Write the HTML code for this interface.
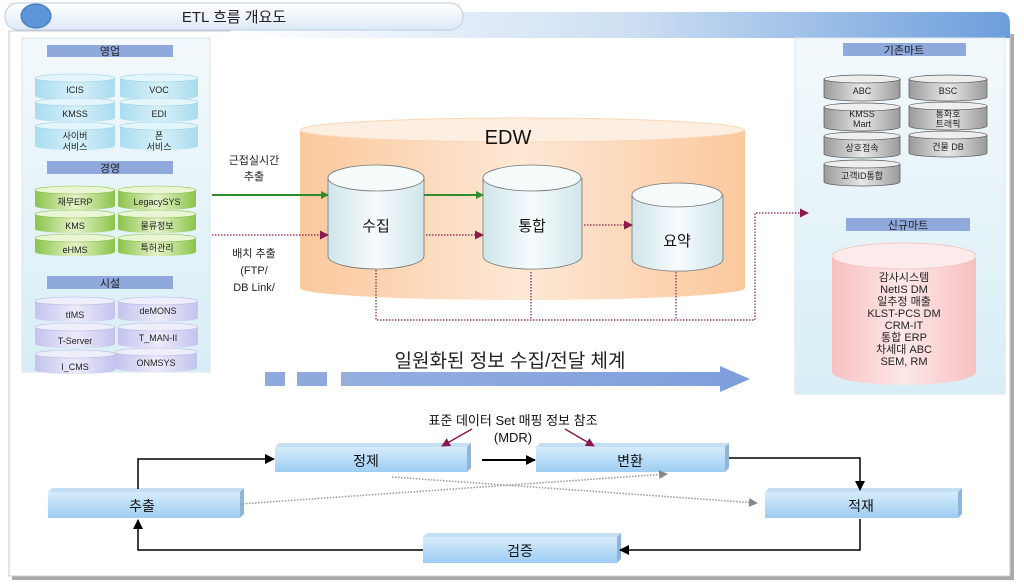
<!DOCTYPE html>
<html><head><meta charset="utf-8"><style>
body{margin:0;background:#fff;}
svg{display:block;font-family:"Liberation Sans","Noto Sans CJK KR",sans-serif;}
</style></head><body>
<svg width="1024" height="585" viewBox="0 0 1024 585" xmlns="http://www.w3.org/2000/svg">
<defs>
<linearGradient id="bar" x1="0" x2="1"><stop offset="0" stop-color="#fff"/><stop offset="0.5" stop-color="#cfe0f3"/><stop offset="1" stop-color="#6c9edc"/></linearGradient>
<linearGradient id="pill" x1="0" y1="0" x2="0" y2="1"><stop offset="0" stop-color="#fff"/><stop offset="1" stop-color="#dde9f6"/></linearGradient>
<linearGradient id="panel" x1="0" y1="0" x2="0" y2="1"><stop offset="0" stop-color="#f3f9fc"/><stop offset="1" stop-color="#d8eef6"/></linearGradient>
<linearGradient id="blue" x1="0" x2="1"><stop offset="0" stop-color="#a9dcef"/><stop offset="0.5" stop-color="#d7f0f9"/><stop offset="1" stop-color="#a9dcef"/></linearGradient>
<linearGradient id="green" x1="0" x2="1"><stop offset="0" stop-color="#8bc34a"/><stop offset="0.5" stop-color="#e5f3c9"/><stop offset="1" stop-color="#8bc34a"/></linearGradient>
<linearGradient id="purp" x1="0" x2="1"><stop offset="0" stop-color="#c3c3ee"/><stop offset="0.5" stop-color="#ebebfa"/><stop offset="1" stop-color="#c3c3ee"/></linearGradient>
<linearGradient id="gray" x1="0" x2="1"><stop offset="0" stop-color="#9a9a9a"/><stop offset="0.5" stop-color="#e8e8e8"/><stop offset="1" stop-color="#9a9a9a"/></linearGradient>
<linearGradient id="pink" x1="0" x2="1"><stop offset="0" stop-color="#f8c0c0"/><stop offset="0.5" stop-color="#fde8e8"/><stop offset="1" stop-color="#f8c0c0"/></linearGradient>
<linearGradient id="orange" x1="0" x2="1"><stop offset="0" stop-color="#fbc89c"/><stop offset="0.5" stop-color="#fde8d6"/><stop offset="1" stop-color="#fbc89c"/></linearGradient>
<linearGradient id="inner" x1="0" x2="1"><stop offset="0" stop-color="#cfe6ea"/><stop offset="0.5" stop-color="#f7fbfc"/><stop offset="1" stop-color="#cfe6ea"/></linearGradient>
<linearGradient id="box" x1="0" y1="0" x2="0" y2="1"><stop offset="0" stop-color="#d6ecfb"/><stop offset="1" stop-color="#9dcdf2"/></linearGradient>
<linearGradient id="arrowg" x1="0" x2="1"><stop offset="0" stop-color="#94aee0"/><stop offset="1" stop-color="#7d9edb"/></linearGradient>
<marker id="ag" markerWidth="8" markerHeight="8" refX="7" refY="4" orient="auto" markerUnits="userSpaceOnUse"><path d="M0,0 L8,4 L0,8z" fill="#2e8b2e"/></marker>
<marker id="ar" markerWidth="9" markerHeight="9" refX="8" refY="4.5" orient="auto" markerUnits="userSpaceOnUse"><path d="M0,0 L9,4.5 L0,9z" fill="#8b1a4a"/></marker>
<marker id="ak" markerWidth="10" markerHeight="10" refX="9" refY="5" orient="auto" markerUnits="userSpaceOnUse"><path d="M0,0 L10,5 L0,10z" fill="#000"/></marker>
<marker id="agr" markerWidth="9" markerHeight="9" refX="8" refY="4.5" orient="auto" markerUnits="userSpaceOnUse"><path d="M0,0 L9,4.5 L0,9z" fill="#888"/></marker>
</defs>

<!-- frame -->
<rect x="12" y="34" width="1002" height="546" fill="#aaa"/>
<rect x="9" y="31" width="1001" height="545" fill="#fff" stroke="#c8c8c8"/>
<!-- header bar -->
<path d="M230,12 H1000 Q1010,12 1010,24 V38 H240 Q230,38 230,26z" fill="url(#bar)"/>
<rect x="5" y="3" width="458" height="27" rx="13" fill="url(#pill)" stroke="#b8cde4"/>
<ellipse cx="36" cy="16" rx="15" ry="12" fill="#5d95d8" stroke="#3a72b8"/>
<text x="234" y="22" font-size="15" text-anchor="middle" fill="#222">ETL 흐름 개요도</text>

<!-- left panel -->
<rect x="22" y="38" width="188" height="334" fill="url(#panel)" stroke="#d8e6ee"/>
<g font-size="9" text-anchor="middle" fill="#222">
<rect x="47" y="45" width="126" height="12" fill="#8fa9dc"/><text x="110" y="55" font-size="11">영업</text>
<rect x="47" y="161" width="126" height="13" fill="#8fa9dc"/><text x="110" y="172" font-size="11">경영</text>
<rect x="47" y="276" width="126" height="13" fill="#8fa9dc"/><text x="110" y="287" font-size="11">시설</text>
</g>
<g id="cyl" font-size="9" text-anchor="middle" fill="#222" stroke-width="0.6">
<!-- blue -->
<path d="M35,78 v18 a40,4 0 0 0 80,0 v-18z" fill="url(#blue)"/><ellipse cx="75" cy="78" rx="40" ry="4" fill="#e4f5fb" stroke="#9ccfe2" stroke-width="0.6"/><text x="75" y="93">ICIS</text>
<path d="M120,78 v18 a39,4 0 0 0 78,0 v-18z" fill="url(#blue)"/><ellipse cx="159" cy="78" rx="39" ry="4" fill="#e4f5fb" stroke="#9ccfe2" stroke-width="0.6"/><text x="159" y="93">VOC</text>
<path d="M35,102 v16 a40,4 0 0 0 80,0 v-16z" fill="url(#blue)"/><ellipse cx="75" cy="102" rx="40" ry="4" fill="#e4f5fb" stroke="#9ccfe2" stroke-width="0.6"/><text x="75" y="117">KMSS</text>
<path d="M120,102 v16 a39,4 0 0 0 78,0 v-16z" fill="url(#blue)"/><ellipse cx="159" cy="102" rx="39" ry="4" fill="#e4f5fb" stroke="#9ccfe2" stroke-width="0.6"/><text x="159" y="117">EDI</text>
<path d="M35,126 v20 a40,4 0 0 0 80,0 v-20z" fill="url(#blue)"/><ellipse cx="75" cy="126" rx="40" ry="4" fill="#e4f5fb" stroke="#9ccfe2" stroke-width="0.6"/><text x="75" y="139">사이버</text><text x="75" y="150">서비스</text>
<path d="M120,126 v20 a39,4 0 0 0 78,0 v-20z" fill="url(#blue)"/><ellipse cx="159" cy="126" rx="39" ry="4" fill="#e4f5fb" stroke="#9ccfe2" stroke-width="0.6"/><text x="159" y="139">폰</text><text x="159" y="150">서비스</text>
<!-- green -->
<path d="M35,190 v16 a40,4 0 0 0 80,0 v-16z" fill="url(#green)"/><ellipse cx="75" cy="190" rx="40" ry="4" fill="#eaf5d6" stroke="#8bc34a" stroke-width="0.6"/><text x="75" y="205">재무ERP</text>
<path d="M118,190 v16 a39,4 0 0 0 78,0 v-16z" fill="url(#green)"/><ellipse cx="157" cy="190" rx="39" ry="4" fill="#eaf5d6" stroke="#8bc34a" stroke-width="0.6"/><text x="157" y="205">LegacySYS</text>
<path d="M35,214 v15 a40,4 0 0 0 80,0 v-15z" fill="url(#green)"/><ellipse cx="75" cy="214" rx="40" ry="4" fill="#eaf5d6" stroke="#8bc34a" stroke-width="0.6"/><text x="75" y="229">KMS</text>
<path d="M118,214 v15 a39,4 0 0 0 78,0 v-15z" fill="url(#green)"/><ellipse cx="157" cy="214" rx="39" ry="4" fill="#eaf5d6" stroke="#8bc34a" stroke-width="0.6"/><text x="157" y="229">물류정보</text>
<path d="M35,238 v14 a40,4 0 0 0 80,0 v-14z" fill="url(#green)"/><ellipse cx="75" cy="238" rx="40" ry="4" fill="#eaf5d6" stroke="#8bc34a" stroke-width="0.6"/><text x="75" y="253">eHMS</text>
<path d="M118,238 v14 a39,4 0 0 0 78,0 v-14z" fill="url(#green)"/><ellipse cx="157" cy="238" rx="39" ry="4" fill="#eaf5d6" stroke="#8bc34a" stroke-width="0.6"/><text x="157" y="251">특허관리</text>
<!-- purple -->
<path d="M35,301 v17 a40,4 0 0 0 80,0 v-17z" fill="url(#purp)"/><ellipse cx="75" cy="301" rx="40" ry="4" fill="#efeffb" stroke="#b8b8e6" stroke-width="0.6"/><text x="75" y="318">tIMS</text>
<path d="M118,301 v17 a40,4 0 0 0 80,0 v-17z" fill="url(#purp)"/><ellipse cx="158" cy="301" rx="40" ry="4" fill="#efeffb" stroke="#b8b8e6" stroke-width="0.6"/><text x="158" y="314">deMONS</text>
<path d="M35,327 v17 a40,4 0 0 0 80,0 v-17z" fill="url(#purp)"/><ellipse cx="75" cy="327" rx="40" ry="4" fill="#efeffb" stroke="#b8b8e6" stroke-width="0.6"/><text x="75" y="344">T-Server</text>
<path d="M118,327 v17 a40,4 0 0 0 80,0 v-17z" fill="url(#purp)"/><ellipse cx="158" cy="327" rx="40" ry="4" fill="#efeffb" stroke="#b8b8e6" stroke-width="0.6"/><text x="158" y="341">T_MAN-II</text>
<path d="M35,354 v16 a40,4 0 0 0 80,0 v-16z" fill="url(#purp)"/><ellipse cx="75" cy="354" rx="40" ry="4" fill="#efeffb" stroke="#b8b8e6" stroke-width="0.6"/><text x="75" y="370">I_CMS</text>
<path d="M115,352 v16 a41,4 0 0 0 82,0 v-16z" fill="url(#purp)"/><ellipse cx="156" cy="352" rx="41" ry="4" fill="#efeffb" stroke="#b8b8e6" stroke-width="0.6"/><text x="156" y="366">ONMSYS</text>
</g>

<!-- right panel -->
<rect x="795" y="38" width="210" height="356" fill="url(#panel)" stroke="#d8e6ee"/>
<g font-size="9" text-anchor="middle" fill="#222">
<rect x="843" y="43" width="123" height="13" fill="#8fa9dc"/><text x="904" y="54" font-size="11">기존마트</text>
<rect x="846" y="218" width="124" height="13" fill="#8fa9dc"/><text x="908" y="229" font-size="11">신규마트</text>
<g stroke="#555" stroke-width="0.7">
<path d="M824,79 v18 a38,4 0 0 0 76,0 v-18z" fill="url(#gray)"/><ellipse cx="862" cy="79" rx="38" ry="4" fill="#eee"/>
<path d="M909,79 v18 a39,4 0 0 0 78,0 v-18z" fill="url(#gray)"/><ellipse cx="948" cy="79" rx="39" ry="4" fill="#eee"/>
<path d="M824,107 v20 a38,4 0 0 0 76,0 v-20z" fill="url(#gray)"/><ellipse cx="862" cy="107" rx="38" ry="4" fill="#eee"/>
<path d="M909,106 v20 a39,4 0 0 0 78,0 v-20z" fill="url(#gray)"/><ellipse cx="948" cy="106" rx="39" ry="4" fill="#eee"/>
<path d="M824,136 v18 a38,4 0 0 0 76,0 v-18z" fill="url(#gray)"/><ellipse cx="862" cy="136" rx="38" ry="4" fill="#eee"/>
<path d="M909,135 v18 a39,4 0 0 0 78,0 v-18z" fill="url(#gray)"/><ellipse cx="948" cy="135" rx="39" ry="4" fill="#eee"/>
<path d="M824,164 v18 a38,4 0 0 0 76,0 v-18z" fill="url(#gray)"/><ellipse cx="862" cy="164" rx="38" ry="4" fill="#eee"/>
</g>
<text x="862" y="94">ABC</text><text x="948" y="94">BSC</text>
<text x="862" y="117">KMSS</text><text x="862" y="127">Mart</text>
<text x="948" y="117">통화호</text><text x="948" y="127">트래픽</text>
<text x="862" y="151">상호접속</text><text x="948" y="150">건물 DB</text>
<text x="862" y="179">고객ID통합</text>
<path d="M832,256 v116 a72,13 0 0 0 144,0 v-116z" fill="url(#pink)"/>
<ellipse cx="904" cy="256" rx="72" ry="13" fill="#fdeaea" stroke="#f4c6c6"/>
<g font-size="11" fill="#222">
<text x="904" y="281">감사시스템</text><text x="904" y="293">NetIS DM</text><text x="904" y="305">일추정 매출</text><text x="904" y="317">KLST-PCS DM</text><text x="904" y="329">CRM-IT</text><text x="904" y="341">통합 ERP</text><text x="904" y="353">차세대 ABC</text><text x="904" y="365">SEM, RM</text>
</g>
</g>

<!-- EDW -->
<path d="M300,130 V288 a222,12 0 0 0 445,0 V130z" fill="url(#orange)"/>
<ellipse cx="522" cy="130" rx="222" ry="12" fill="#fdeee2" stroke="#fbd6b6"/>
<text x="508" y="144" font-size="20" text-anchor="middle" fill="#111">EDW</text>
<g stroke="#777" stroke-width="0.8">
<path d="M328,178 v78 a48,13 0 0 0 96,0 v-78z" fill="url(#inner)"/><ellipse cx="376" cy="178" rx="48" ry="13" fill="#f5fafb"/>
<path d="M483,178 v78 a49,13 0 0 0 99,0 v-78z" fill="url(#inner)"/><ellipse cx="532" cy="178" rx="49" ry="13" fill="#f5fafb"/>
<path d="M632,195 v64 a45,12 0 0 0 91,0 v-64z" fill="url(#inner)"/><ellipse cx="677" cy="195" rx="45" ry="12" fill="#f5fafb"/>
</g>
<g font-size="15" text-anchor="middle" fill="#111">
<text x="376" y="231">수집</text><text x="532" y="231">통합</text><text x="677" y="246">요약</text>
</g>
<g font-size="11" text-anchor="middle" fill="#222">
<text x="254" y="164">근접실시간</text><text x="254" y="180">추출</text>
<text x="254" y="257">배치 추출</text><text x="254" y="274">(FTP/</text><text x="254" y="291">DB Link/</text>
</g>
<line x1="212" y1="195" x2="328" y2="195" stroke="#2e8b2e" stroke-width="2" marker-end="url(#ag)"/>
<line x1="424" y1="195" x2="483" y2="195" stroke="#2e8b2e" stroke-width="2" marker-end="url(#ag)"/>
<g stroke="#8b1a4a" stroke-width="1.2" stroke-dasharray="1.5,1.5" fill="none">
<line x1="212" y1="235" x2="328" y2="235" marker-end="url(#ar)"/>
<line x1="426" y1="235" x2="483" y2="235" marker-end="url(#ar)"/>
<line x1="584" y1="225" x2="632" y2="225" marker-end="url(#ar)"/>
<polyline points="376,270 376,320 755,320 755,213 808,213" marker-end="url(#ar)"/>
<line x1="531" y1="272" x2="531" y2="320"/>
<line x1="676" y1="272" x2="676" y2="320"/>
</g>

<!-- big arrow -->
<text x="510" y="367" font-size="19" text-anchor="middle" fill="#222">일원화된 정보 수집/전달 체계</text>
<rect x="265" y="372" width="20" height="14" fill="#8fa9dc"/>
<rect x="297" y="372" width="30" height="14" fill="#8fa9dc"/>
<path d="M341,372 H720 V366 L750,379 L720,392 V386 H341z" fill="url(#arrowg)"/>

<!-- bottom flow -->
<g>
<g fill="#c4dff3"><path d="M275,447 l4,-4 h192 l-4,4z"/><path d="M467,447 l4,-4 v25 l-4,4z" fill="#8fb6da"/>
<path d="M536,447 l4,-4 h189 l-4,4z"/><path d="M725,447 l4,-4 v25 l-4,4z" fill="#8fb6da"/>
<path d="M48,492 l4,-4 h192 l-4,4z"/><path d="M240,492 l4,-4 v26 l-4,4z" fill="#8fb6da"/>
<path d="M765,492 l4,-4 h193 l-4,4z"/><path d="M958,492 l4,-4 v26 l-4,4z" fill="#8fb6da"/>
<path d="M423,537 l4,-4 h194 l-4,4z"/><path d="M617,537 l4,-4 v26 l-4,4z" fill="#8fb6da"/></g>
<rect x="275" y="447" width="192" height="25" fill="url(#box)"/>
<rect x="536" y="447" width="189" height="25" fill="url(#box)"/>
<rect x="48" y="492" width="192" height="26" fill="url(#box)"/>
<rect x="765" y="492" width="193" height="26" fill="url(#box)"/>
<rect x="423" y="537" width="194" height="26" fill="url(#box)"/>
</g>
<g font-size="14" text-anchor="middle" fill="#111">
<text x="366" y="466">정제</text><text x="630" y="466">변환</text><text x="142" y="511">추출</text><text x="861" y="511">적재</text><text x="520" y="556">검증</text>
</g>
<text x="513" y="425" font-size="13" text-anchor="middle" fill="#111">표준 데이터 Set 매핑 정보 참조</text>
<text x="513" y="442" font-size="13" text-anchor="middle" fill="#111">(MDR)</text>
<line x1="472" y1="429" x2="442" y2="446" stroke="#8b1a4a" stroke-width="1.5" marker-end="url(#ar)"/>
<line x1="565" y1="429" x2="594" y2="446" stroke="#8b1a4a" stroke-width="1.5" marker-end="url(#ar)"/>
<g stroke="#000" stroke-width="1.5" fill="none">
<polyline points="138,489 138,459 274,459" marker-end="url(#ak)"/>
<line x1="482" y1="460" x2="535" y2="460" stroke-width="2" marker-end="url(#ak)"/>
<polyline points="729,458 860,458 860,490" marker-end="url(#ak)"/>
<polyline points="860,519 860,550 620,550" marker-end="url(#ak)"/>
<polyline points="423,550 138,550 138,520" marker-end="url(#ak)"/>
</g>
<g stroke="#999" stroke-width="1.5" stroke-dasharray="1.5,1.5">
<line x1="240" y1="504" x2="667" y2="474" marker-end="url(#agr)"/>
<line x1="392" y1="477" x2="757" y2="503" marker-end="url(#agr)"/>
</g>
</svg>
</body></html>
